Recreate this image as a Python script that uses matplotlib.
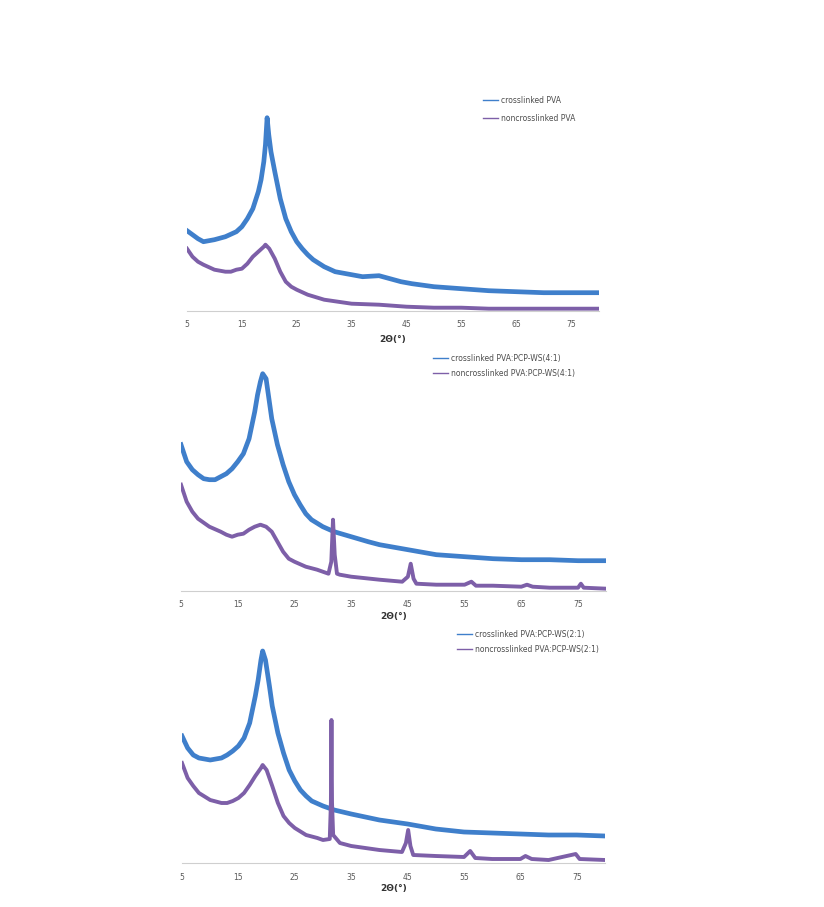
import matplotlib
matplotlib.use("Agg")
import matplotlib.pyplot as plt

# ---------------- data (2θ in degrees, intensity in a.u.) ----------------
p1_cross_x = [5, 7, 8, 10, 12, 14, 15, 16, 17, 18, 18.5, 19, 19.3, 19.6, 19.9, 20.3, 21, 22, 23, 24, 25, 26, 27, 28,
              30, 32, 35, 37, 40, 42, 44, 46, 50, 55, 60, 65, 70, 75, 80]
p1_cross_y = [80, 72, 69, 71, 74, 79, 84, 92, 102, 119, 131, 149, 166, 193, 176, 159, 139, 112, 92, 79, 69, 62, 56, 51,
              44, 39, 36, 34, 35, 32, 29, 27, 24, 22, 20, 19, 18, 18, 18]
p1_non_x = [5, 6, 7, 8, 10, 12, 13, 14, 15, 16, 17, 18, 19, 19.3, 20, 21, 22, 23, 24, 25, 27, 30, 35, 40, 45, 50, 55,
            60, 70, 80]
p1_non_y = [62, 54, 49, 46, 41, 39, 39, 41, 42, 47, 54, 59, 64, 66, 62, 52, 39, 29, 24, 21, 16, 11, 7, 6, 4, 3, 3,
            2, 2, 2]

p2_cross_x = [5, 6, 7, 8, 9, 10, 11, 12, 13, 14, 15, 16, 17, 18, 18.5, 19, 19.4, 20, 20.5, 21, 22, 23, 24, 25, 26,
              27, 28, 30, 32, 35, 38, 40, 45, 50, 55, 60, 65, 70, 75, 80]
p2_cross_y = [146, 129, 121, 116, 112, 111, 111, 114, 117, 122, 129, 137, 152, 179, 196, 209, 217, 212, 192, 172,
              146, 126, 109, 96, 86, 77, 71, 64, 59, 54, 49, 46, 41, 36, 34, 32, 31, 31, 30, 30]
p2_non_x = [5, 6, 7, 8, 10, 12, 13, 14, 15, 16, 17, 18, 19, 20, 21, 22, 23, 24, 25, 27, 29, 31, 31.5, 31.8, 32.1,
            32.5, 33, 35, 40, 44, 45, 45.5, 46, 46.5, 50, 55, 56.2, 57, 60, 65, 66, 67, 70, 75, 75.5, 76, 80]
p2_non_y = [106, 89, 79, 72, 64, 59, 56, 54, 56, 57, 61, 64, 66, 64, 59, 49, 39, 32, 29, 24, 21, 17, 29, 71, 36,
            17, 16, 14, 11, 9, 14, 27, 12, 7, 6, 6, 9, 5, 5, 4, 6, 4, 3, 3, 7, 3, 2]

p3_cross_x = [5, 6, 7, 8, 10, 12, 13, 14, 15, 16, 17, 18, 18.5, 19, 19.3, 19.8, 20.5, 21, 22, 23, 24, 25, 26, 27,
              28, 30, 32, 35, 40, 45, 50, 55, 60, 65, 70, 75, 80]
p3_cross_y = [127, 115, 108, 105, 103, 105, 108, 112, 117, 125, 140, 167, 183, 203, 212, 203, 177, 157, 130, 110,
              93, 82, 73, 67, 62, 57, 53, 49, 43, 39, 34, 31, 30, 29, 28, 28, 27]
p3_non_x = [5, 6, 7, 8, 10, 12, 13, 14, 15, 16, 17, 18, 19, 19.3, 20, 21, 22, 23, 24, 25, 27, 29, 30, 31.2, 31.4,
            31.5, 31.6, 31.8, 33, 35, 40, 44, 44.7, 45.1, 45.5, 46, 50, 55, 56.1, 57, 60, 65, 65.9, 67, 70, 74.8,
            75.5, 80]
p3_non_y = [100, 85, 77, 70, 63, 60, 60, 62, 65, 70, 78, 87, 95, 98, 93, 77, 60, 47, 40, 35, 28, 25, 23, 24, 60,
            143, 60, 28, 20, 17, 13, 11, 20, 33, 17, 8, 7, 6, 12, 5, 4, 4, 7, 4, 3, 9, 4, 3]

xticks = [5, 15, 25, 35, 45, 55, 65, 75]
labels_p1 = ["crosslinked PVA", "noncrosslinked PVA"]
labels_p2 = ["crosslinked PVA:PCP-WS(4:1)", "noncrosslinked PVA:PCP-WS(4:1)"]
labels_p3 = ["crosslinked PVA:PCP-WS(2:1)", "noncrosslinked PVA:PCP-WS(2:1)"]
xlabel = "2Θ(°)"

# ---------------- style ----------------
BLUE = "#3f7fcb"
PURPLE = "#7d5fa8"
W, H = 824, 907
fig = plt.figure(figsize=(W / 100, H / 100), dpi=100)

def px_axes(left, right, top, bottom):
    return fig.add_axes([left / W, 1 - bottom / H, (right - left) / W, (bottom - top) / H])

panels = [
    # (left, right, top, bottom, cross, non, labels, legend anchor(px), labelspacing, xlabel pad)
    (187, 598.5, 95, 310.7, (p1_cross_x, p1_cross_y), (p1_non_x, p1_non_y), labels_p1, (483, 96), 1.15, 4),
    (181, 606.4, 350, 590.7, (p2_cross_x, p2_cross_y), (p2_non_x, p2_non_y), labels_p2, (433, 354), 0.8, 2),
    (182, 605, 625, 863, (p3_cross_x, p3_cross_y), (p3_non_x, p3_non_y), labels_p3, (457, 630), 0.8, 2),
]

for left, right, top, bottom, cross, non, labs, leg_xy, lsp, lpad in panels:
    ax = px_axes(left, right, top, bottom)
    ax.plot(cross[0], cross[1], color=BLUE, lw=3.4, label=labs[0], solid_joinstyle="round")
    ax.plot(non[0], non[1], color=PURPLE, lw=2.8, label=labs[1], solid_joinstyle="round")
    ax.set_xlim(5, 80)
    ax.set_ylim(0, bottom - top)
    ax.set_xticks(xticks)
    ax.set_xticklabels([str(t) for t in xticks])
    ax.set_yticks([])
    for s in ("top", "right", "left"):
        ax.spines[s].set_visible(False)
    ax.spines["bottom"].set_color("#cfcfcf")
    ax.spines["bottom"].set_linewidth(0.8)
    ax.tick_params(axis="x", length=0, pad=7, labelsize=5.5, labelcolor="#595959")
    ax.set_xlabel(xlabel, fontsize=6.5, fontweight="bold", color="#333333", labelpad=lpad)
    ax.patch.set_alpha(0)
    leg = ax.legend(loc="upper left", bbox_to_anchor=(leg_xy[0] / W, 1 - leg_xy[1] / H),
                    bbox_transform=fig.transFigure, frameon=False, fontsize=5.5,
                    handlelength=2.0, handletextpad=0.3, labelspacing=lsp, borderpad=0, borderaxespad=0)
    for h in leg.get_lines():
        h.set_linewidth(1.0)
    for t in leg.get_texts():
        t.set_color("#4d4d4d")

fig.savefig("out.png", dpi=100, facecolor="white")
